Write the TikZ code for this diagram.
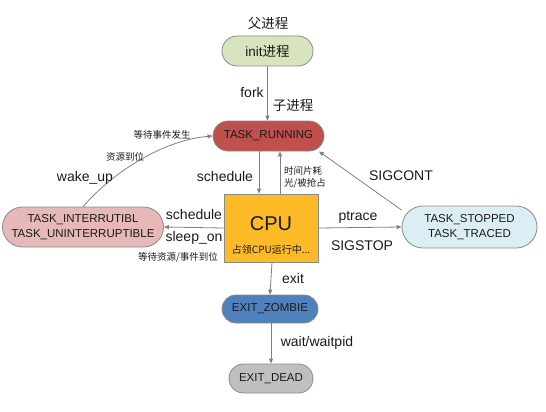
\documentclass[tikz,border=0pt]{standalone}
\usepackage{fontspec}
\setmainfont{Liberation Sans}
\newfontfamily\cjk{Noto Sans CJK SC}
\usetikzlibrary{arrows.meta}
\definecolor{bordergray}{HTML}{8A8A8A}
\definecolor{arrowgray}{HTML}{808080}
\definecolor{initgreen}{HTML}{D7E4BD}
\definecolor{runred}{HTML}{C0504D}
\definecolor{intpink}{HTML}{E6B9B8}
\definecolor{stopblue}{HTML}{DBEEF4}
\definecolor{cpuyellow}{HTML}{FBBA26}
\definecolor{zombieblue}{HTML}{4F81BD}
\definecolor{deadgray}{HTML}{BFBFBF}
\definecolor{txt}{HTML}{1A1A1A}
\begin{document}
\begin{tikzpicture}[x=1pt,y=-1pt,
  pill/.style={draw=bordergray, line width=0.8pt, rounded corners=#1, inner sep=0pt,
    align=center, text=txt, font=\fontsize{11.5}{15}\selectfont},
  arr/.style={draw=arrowgray, line width=0.8pt, -{Triangle[length=5pt,width=4pt]}},
  lbl/.style={text=txt, inner sep=0pt, font=\fontsize{14}{16}\selectfont},
  zhbig/.style={text=txt, inner sep=0pt, font=\cjk\fontsize{13.5}{16}\selectfont},
  zhsmall/.style={text=txt, inner sep=0pt, align=left, font=\cjk\fontsize{9.5}{12}\selectfont}]
\useasboundingbox (0,0) rectangle (546,412);

% nodes
\node[pill=15pt, fill=initgreen, minimum width=91pt, minimum height=30pt,
  font=\fontsize{13.5}{16}\selectfont] (init) at (267.5,51) {init{\cjk 进程}};
\node[pill=15pt, fill=runred, minimum width=111pt, minimum height=30pt] (run) at (268.5,136) {TASK\_RUNNING};
\node[draw=bordergray, line width=0.8pt, fill=cpuyellow, minimum width=94pt, minimum height=68pt, inner sep=0pt] (cpu) at (271,228) {};
\node[text=txt, inner sep=0pt, font=\fontsize{20}{22}\selectfont] (cputxt) at (271,224) {CPU};
\node[text=txt, inner sep=0pt, font=\cjk\fontsize{10}{12}\selectfont] (cpusub) at (271,250) {占领CPU运行中...};
\node[pill=20pt, fill=intpink, minimum width=161pt, minimum height=40pt] (intr) at (83,227) {TASK\_INTERRUTIBL\\TASK\_UNINTERRUPTIBLE};
\node[pill=21pt, fill=stopblue, minimum width=135pt, minimum height=42pt] (stop) at (469.5,227) {TASK\_STOPPED\\TASK\_TRACED};
\node[pill=14pt, fill=zombieblue, minimum width=96pt, minimum height=28pt] (zombie) at (270,309) {EXIT\_ZOMBIE};
\node[pill=14.5pt, fill=deadgray, minimum width=84pt, minimum height=29pt] (dead) at (271,378.5) {EXIT\_DEAD};

% connectors
\draw[arr] (init.south) -- (init.south |- run.north);
\draw[arr] ([xshift=-9.5pt]run.south) -- ([xshift=-12pt]cpu.north);
\draw[arr] ([xshift=9pt]cpu.north) -- ([xshift=11.5pt]run.south);
\draw[arr] (cpu.west) -- (intr.east);
\draw[arr] (cpu.east) -- (stop.west);
\draw[arr] (intr.north) .. controls (115,170) and (165,140) .. (run.west);
\draw[arr] (stop.166) -- (run.-17);
\draw[arr] ([xshift=1pt]cpu.south) -- (zombie.north);
\draw[arr] ([xshift=1pt]zombie.south) -- (dead.north);

% labels
\node[zhbig] (lparent) at (268,23) {父进程};
\node[lbl] (lfork) at (252,92) {fork};
\node[zhbig] (lchild) at (293,105) {子进程};
\node[lbl] (lsched1) at (225,176) {schedule};
\node[zhsmall] (ltime) at (305,177) {时间片耗\\光/被抢占};
\node[lbl] (lsigcont) at (401,176) {SIGCONT};
\node[lbl] (lsched2) at (194,214) {schedule};
\node[lbl] (lsleep) at (194,238) {sleep\_on};
\node[zhsmall] (lwaitres) at (178,257) {等待资源/事件到位};
\node[lbl] (lptrace) at (358,217) {ptrace};
\node[lbl] (lsigstop) at (362,246) {SIGSTOP};
\node[lbl] (lexit) at (293,278) {exit};
\node[lbl] (lwait) at (317,343) {wait/waitpid};
\node[zhsmall] (levent) at (162,135) {等待事件发生};
\node[zhsmall] (lres) at (125,157) {资源到位};
\node[lbl] (lwake) at (85,178) {wake\_up};
\end{tikzpicture}
\end{document}
